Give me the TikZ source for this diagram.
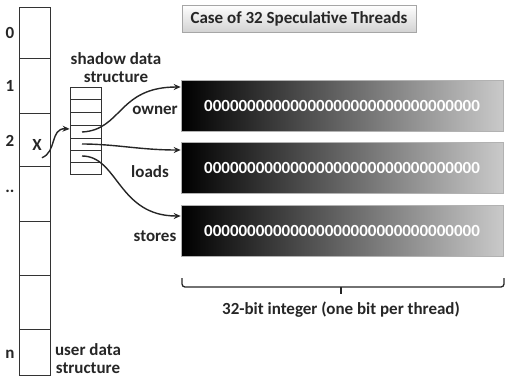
\documentclass[tikz,border=0pt]{standalone}
\usepackage{fontspec}
\setmainfont{Carlito}
\usetikzlibrary{arrows.meta}
\begin{document}
\begin{tikzpicture}[x=1pt,y=-1pt,
  lbl/.style={font=\fontsize{17}{19}\selectfont\bfseries, inner sep=0pt, text=black!85},
  cellline/.style={line width=0.9pt, draw=black!80},
  bar/.style={minimum width=322pt, minimum height=51pt, inner sep=0pt,
    left color=black, right color=gray!42, draw=gray!60, line width=0.6pt,
    font=\fontsize{17}{19}\selectfont\bfseries, text=white},
  link/.style={line width=1.4pt, draw=black!85, -{Stealth[length=7pt,width=6pt]}}]
\useasboundingbox (0,0) rectangle (506,381);

% user data structure (left column)
\node[draw=black!80, line width=0.9pt, minimum width=31pt, minimum height=368pt, inner sep=0pt]
  (user) at (34.5,191) {};
\foreach \yy in {58,113,166,221,275,329} \draw[cellline] (19,\yy) -- (50,\yy);
\node[lbl] (i0) at (10,33) {0};
\node[lbl] (i1) at (10,86) {1};
\node[lbl] (i2) at (10,141) {2};
\node[lbl] (idots) at (10,191) {..};
\node[lbl] (in) at (10,354) {n};
\node[lbl] (x) at (37,145) {X};
\node[lbl, align=center] (usertxt) at (88,359) {user data\\[-1pt]structure};

% shadow data structure
\node[draw=black!80, line width=0.9pt, minimum width=31pt, minimum height=87pt, inner sep=0pt]
  (shadow) at (85.5,130.5) {};
\foreach \yy in {99,112,125,138,150,162} \draw[cellline] (70,\yy) -- (101,\yy);
\node[lbl, align=center] (shadowtxt) at (116,68) {shadow data\\[-1pt]structure};
\coordinate (sOwner) at (82,132);
\coordinate (sLoads) at (82,144);
\coordinate (sStores) at (82,156);

% title
\node[draw=gray!70, line width=0.6pt, top color=white, bottom color=gray!35,
  minimum width=234pt, minimum height=27pt, inner sep=0pt, lbl]
  (title) at (299,18.5) {Case of 32 Speculative Threads};

% bit vectors
\node[bar] (owner) at (342,105.5) {00000000000000000000000000000000};
\node[bar] (loads) at (342,167.5) {00000000000000000000000000000000};
\node[bar] (stores) at (342,230.5) {00000000000000000000000000000000};
\node[lbl] (ownertxt) at (155,110) {owner};
\node[lbl] (loadstxt) at (150,172) {loads};
\node[lbl] (storestxt) at (155,236) {stores};

% connectors
\draw[link] (x.south east) ++(0,7) .. controls (57,152) and (50,128) .. (shadow.west |- 0,129);
\draw[link] (sOwner) .. controls (122,130) and (118,87) .. (owner.west |- 0,87);
\draw[link] (sLoads) .. controls (115,144) and (140,150) .. (loads.west |- 0,150);
\draw[link] (sStores) .. controls (118,156) and (118,216) .. (stores.west |- 0,216);

% bracket under the bit vectors
\coordinate (bl) at (182,278);
\coordinate (br) at (504,278);
\coordinate (bm) at (341,287);
\draw[line width=1.3pt, black!85, rounded corners=3pt] (bl) -- (182,287) -- (504,287) -- (br);
\draw[line width=1.3pt, black!85] (bm) -- (341,294);
\node[lbl] (bits) at (341,310) {32-bit integer (one bit per thread)};
\end{tikzpicture}
\end{document}
